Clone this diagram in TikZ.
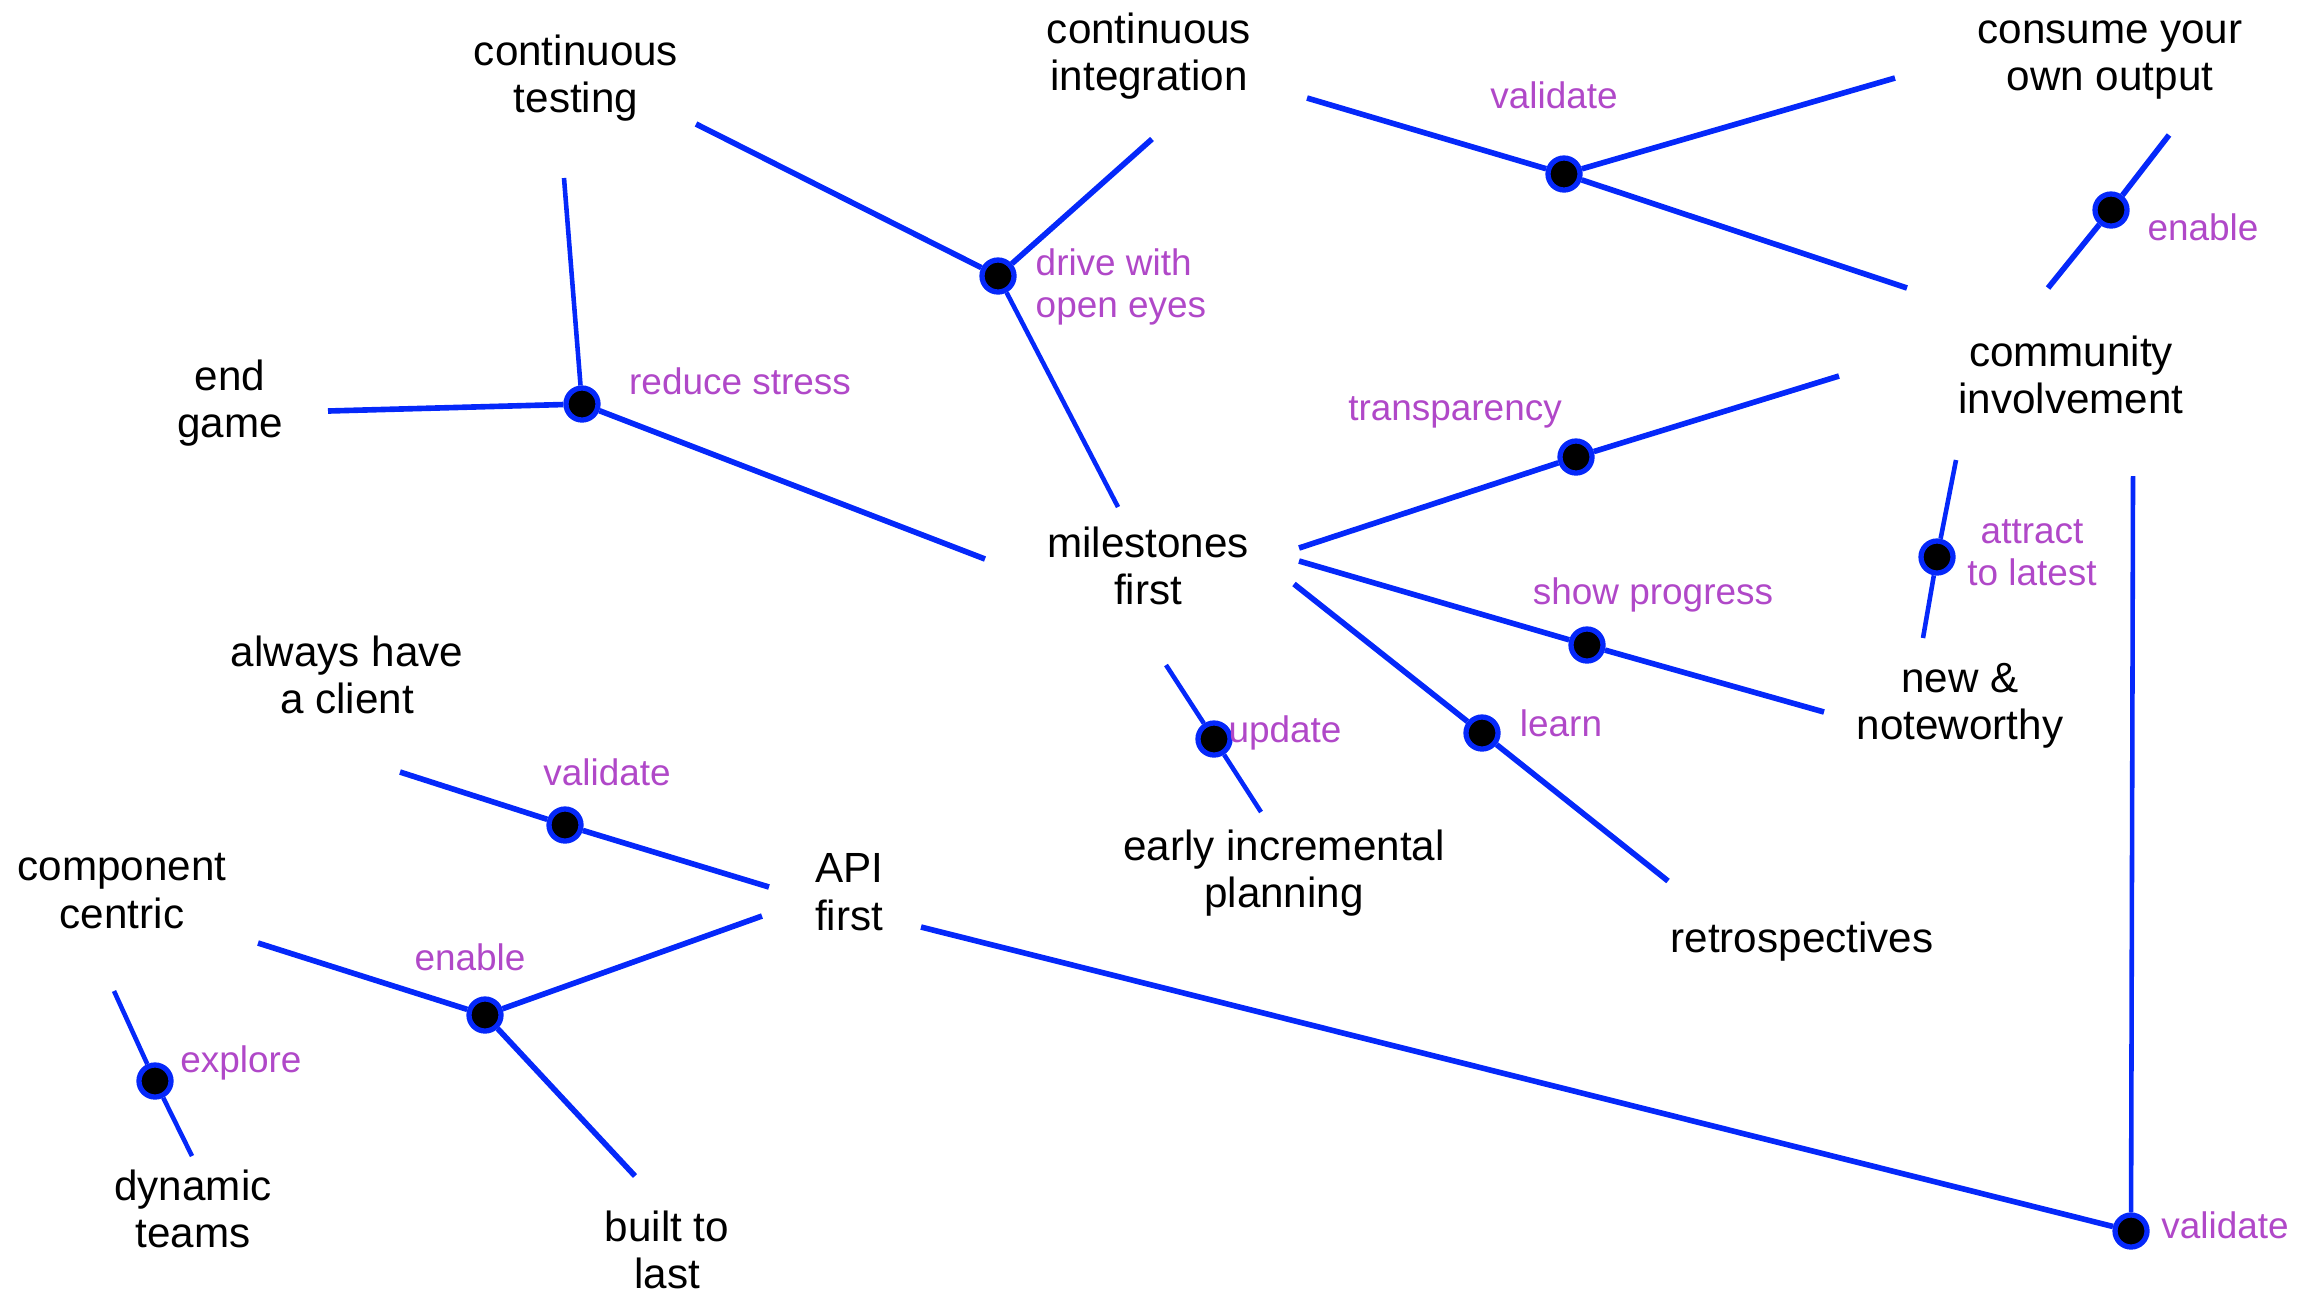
\documentclass[tikz,border=0pt]{standalone}
\usepackage{fontspec}
\setmainfont{Liberation Sans}
\definecolor{linkblue}{RGB}{5,40,250}
\definecolor{verbpurple}{RGB}{176,72,200}
\tikzset{
    topic/.style={align=center, inner sep=0pt, font=\fontsize{12}{13.5}\selectfont},
    verb/.style={text=verbpurple, align=center, inner sep=0pt, font=\fontsize{10.5}{12}\selectfont},
    hub/.style={circle, draw=linkblue, fill=black, line width=1.5pt, minimum size=3.2mm, inner sep=0pt},
    link/.style={draw=linkblue, line width=1.6pt},
    thinlink/.style={draw=linkblue, line width=1.3pt}
}

\begin{document}
\begin{tikzpicture}[x=0.01cm, y=-0.01cm]
    \useasboundingbox (0,0) rectangle (2310,1296);

    % topics
    \node[topic] (ctest) at (576,78) {continuous\\testing};
    \node[topic] (cint) at (1149,56) {continuous\\integration};
    \node[topic] (consume) at (2110,60) {consume your\\own output};
    \node[topic] (endgame) at (230,403) {end\\game};
    \node[topic] (community) at (2071,375) {community\\involvement};
    \node[topic] (milestones) at (1148,566) {milestones\\first};
    \node[topic] (client) at (347,675) {always have\\a client};
    \node[topic] (news) at (1960,706) {new \&\\noteworthy};
    \node[topic] (planning) at (1284,873) {early incremental\\planning};
    \node[topic] (component) at (122,891) {component\\centric};
    \node[topic] (api) at (849,892) {API\\first};
    \node[topic] (retro) at (1802,942) {retrospectives};
    \node[topic] (teams) at (193,1209) {dynamic\\teams};
    \node[topic] (built) at (667,1250) {built to\\last};

    % hubs
    \node[hub] (drive) at (998,276) {};
    \node[hub] (valid1) at (1564,174) {};
    \node[hub] (enable1) at (2111,210) {};
    \node[hub] (reduce) at (582,404) {};
    \node[hub] (transp) at (1576,457) {};
    \node[hub] (attract) at (1937,557) {};
    \node[hub] (show) at (1587,645) {};
    \node[hub] (update) at (1214,739) {};
    \node[hub] (learn) at (1482,733) {};
    \node[hub] (valid2) at (565,825) {};
    \node[hub] (enable2) at (485,1015) {};
    \node[hub] (explore) at (155,1081) {};
    \node[hub] (valid3) at (2131,1231) {};

    % free ends of the links, next to the topics
    \coordinate (ctest-e) at (696,124);
    \coordinate (cint-e) at (1152,139);
    \coordinate (ms-n) at (1118,507);
    \coordinate (cint-e2) at (1307,98);
    \coordinate (consume-w) at (1895,78);
    \coordinate (comm-nw) at (1907,288);
    \coordinate (comm-n) at (2048,288);
    \coordinate (consume-s) at (2169,135);
    \coordinate (ctest-s) at (564,178);
    \coordinate (endgame-e) at (328,411);
    \coordinate (ms-w) at (985,559);
    \coordinate (ms-e1) at (1299,548);
    \coordinate (comm-w) at (1839,376);
    \coordinate (comm-s) at (1956,460);
    \coordinate (news-n) at (1923,638);
    \coordinate (ms-e2) at (1299,561);
    \coordinate (news-w) at (1824,712);
    \coordinate (ms-s) at (1166,665);
    \coordinate (plan-n) at (1261,812);
    \coordinate (ms-e3) at (1294,584);
    \coordinate (retro-n) at (1668,881);
    \coordinate (client-s) at (400,772);
    \coordinate (api-w1) at (769,887);
    \coordinate (comp-e) at (258,943);
    \coordinate (api-w2) at (762,916);
    \coordinate (built-n) at (635,1176);
    \coordinate (comp-s) at (114,991);
    \coordinate (teams-n) at (192,1156);
    \coordinate (api-e) at (921,927);
    \coordinate (comm-s2) at (2133,476);

    % links
    \draw[link] (ctest-e) -- (drive) -- (cint-e);
    \draw[thinlink] (drive) -- (ms-n);
    \draw[link] (cint-e2) -- (valid1) -- (consume-w);
    \draw[link] (valid1) -- (comm-nw);
    \draw[link] (comm-n) -- (enable1) -- (consume-s);
    \draw[thinlink] (ctest-s) -- (reduce);
    \draw[link] (endgame-e) -- (reduce) -- (ms-w);
    \draw[link] (ms-e1) -- (transp) -- (comm-w);
    \draw[thinlink] (comm-s) -- (attract) -- (news-n);
    \draw[link] (ms-e2) -- (show) -- (news-w);
    \draw[thinlink] (ms-s) -- (update) -- (plan-n);
    \draw[link] (ms-e3) -- (learn) -- (retro-n);
    \draw[link] (client-s) -- (valid2) -- (api-w1);
    \draw[link] (comp-e) -- (enable2) -- (api-w2);
    \draw[link] (enable2) -- (built-n);
    \draw[thinlink] (comp-s) -- (explore) -- (teams-n);
    \draw[link] (api-e) -- (valid3);
    \draw[thinlink] (comm-s2) -- (valid3);

    % verbs
    \node[verb] at (1554,95) {validate};
    \node[verb] at (2203,227) {enable};
    \node[verb, align=left, anchor=west] at (1035,287) {drive with\\open eyes};
    \node[verb] at (740,381) {reduce stress};
    \node[verb] at (1455,412) {transparency};
    \node[verb] at (2032,553) {attract\\to latest};
    \node[verb] at (1653,595) {show progress};
    \node[verb] at (1285,733) {update};
    \node[verb] at (1561,723) {learn};
    \node[verb] at (607,772) {validate};
    \node[verb] at (470,957) {enable};
    \node[verb] at (241,1063) {explore};
    \node[verb] at (2225,1225) {validate};
\end{tikzpicture}
\end{document}
